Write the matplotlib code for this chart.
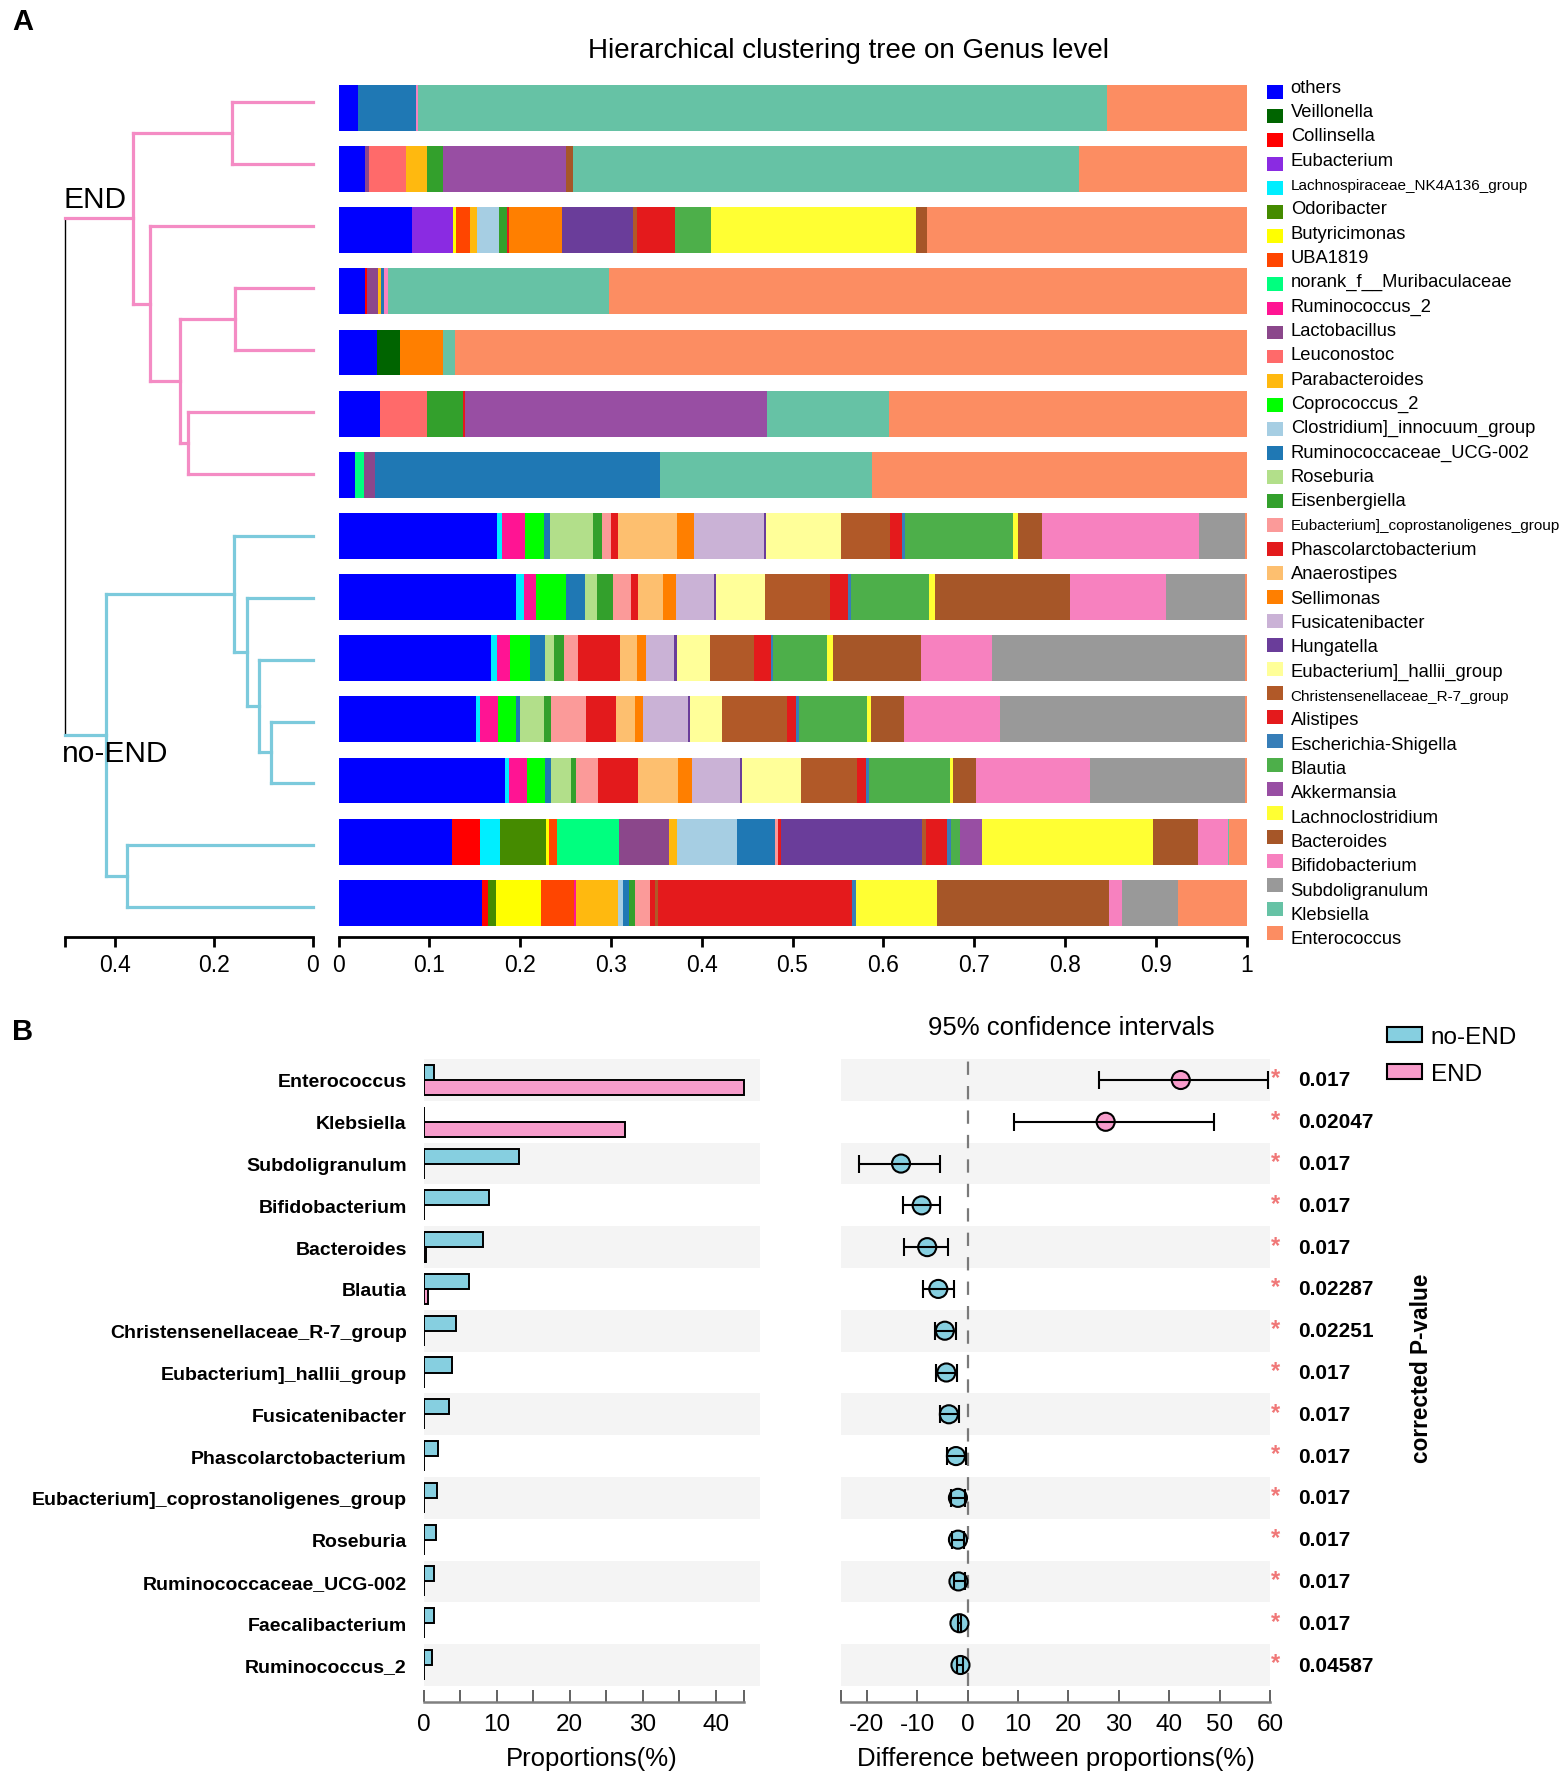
import matplotlib
matplotlib.use('Agg')
import matplotlib.pyplot as plt
import numpy as np
from matplotlib import font_manager
from matplotlib.patches import Patch
import matplotlib.transforms as mtransforms

plt.rcParams['font.family'] = ['Liberation Sans', 'DejaVu Sans']
plt.rcParams['axes.unicode_minus'] = False

# ------------------------------------------------------------------ data
genera = ['others', 'Veillonella', 'Collinsella', 'Eubacterium',
          'Lachnospiraceae_NK4A136_group', 'Odoribacter', 'Butyricimonas',
          'UBA1819', 'norank_f__Muribaculaceae', 'Ruminococcus_2',
          'Lactobacillus', 'Leuconostoc', 'Parabacteroides', 'Coprococcus_2',
          'Clostridium]_innocuum_group', 'Ruminococcaceae_UCG-002', 'Roseburia',
          'Eisenbergiella', 'Eubacterium]_coprostanoligenes_group',
          'Phascolarctobacterium', 'Anaerostipes', 'Sellimonas',
          'Fusicatenibacter', 'Hungatella', 'Eubacterium]_hallii_group',
          'Christensenellaceae_R-7_group', 'Alistipes', 'Escherichia-Shigella',
          'Blautia', 'Akkermansia', 'Lachnoclostridium', 'Bacteroides',
          'Bifidobacterium', 'Subdoligranulum', 'Klebsiella', 'Enterococcus']

genus_colors = ['#0000FF', '#006400', '#FF0000', '#8A2BE2', '#00EEFF', '#458B00',
                '#FFFF00', '#FF4500', '#00FF7F', '#FF1493', '#8B478B', '#FF6A6A',
                '#FFB90F', '#00FF00', '#A6CEE3', '#1F78B4', '#B2DF8A', '#33A02C',
                '#FB9A99', '#E31A1C', '#FDBF6F', '#FF7F00', '#CAB2D6', '#6A3D9A',
                '#FFFF99', '#B15928', '#E41A1C', '#377EB8', '#4DAF4A', '#984EA3',
                '#FFFF33', '#A65628', '#F781BF', '#999999', '#66C2A5', '#FC8D62']

condensed_labels = ['Lachnospiraceae_NK4A136_group',
                    'Eubacterium]_coprostanoligenes_group',
                    'Christensenellaceae_R-7_group']

# relative abundance of each sample (top to bottom)
end_s1 = {'others': 0.022, 'Ruminococcaceae_UCG-002': 0.063, 'Bifidobacterium': 0.002,
          'Klebsiella': 0.759, 'Enterococcus': 0.154}
end_s2 = {'others': 0.029, 'Lactobacillus': 0.005, 'Leuconostoc': 0.040,
          'Parabacteroides': 0.023, 'Eisenbergiella': 0.018, 'Akkermansia': 0.135,
          'Bacteroides': 0.008, 'Klebsiella': 0.557, 'Enterococcus': 0.185}
end_s3 = {'others': 0.081, 'Eubacterium': 0.045, 'Butyricimonas': 0.003, 'UBA1819': 0.016,
          'Parabacteroides': 0.007, 'Clostridium]_innocuum_group': 0.025,
          'Eisenbergiella': 0.009, 'Phascolarctobacterium': 0.002, 'Sellimonas': 0.058,
          'Hungatella': 0.078, 'Christensenellaceae_R-7_group': 0.005, 'Alistipes': 0.042,
          'Blautia': 0.039, 'Lachnoclostridium': 0.226, 'Bacteroides': 0.012,
          'Enterococcus': 0.352}
end_s4 = {'others': 0.029, 'Collinsella': 0.002, 'Lactobacillus': 0.013,
          'Parabacteroides': 0.003, 'Ruminococcaceae_UCG-002': 0.003,
          'Bifidobacterium': 0.004, 'Klebsiella': 0.244, 'Enterococcus': 0.702}
end_s5 = {'others': 0.042, 'Veillonella': 0.026, 'Sellimonas': 0.047,
          'Klebsiella': 0.013, 'Enterococcus': 0.872}
end_s6 = {'others': 0.046, 'Leuconostoc': 0.052, 'Eisenbergiella': 0.039,
          'Alistipes': 0.002, 'Akkermansia': 0.333, 'Klebsiella': 0.134,
          'Enterococcus': 0.394}
end_s7 = {'others': 0.018, 'norank_f__Muribaculaceae': 0.010, 'Lactobacillus': 0.012,
          'Ruminococcaceae_UCG-002': 0.314, 'Klebsiella': 0.233, 'Enterococcus': 0.413}
noend_s1 = {'others': 0.175, 'Lachnospiraceae_NK4A136_group': 0.005, 'Ruminococcus_2': 0.025,
            'Coprococcus_2': 0.021, 'Ruminococcaceae_UCG-002': 0.007, 'Roseburia': 0.047,
            'Eisenbergiella': 0.010, 'Eubacterium]_coprostanoligenes_group': 0.010,
            'Phascolarctobacterium': 0.008, 'Anaerostipes': 0.065, 'Sellimonas': 0.018,
            'Fusicatenibacter': 0.078, 'Hungatella': 0.002, 'Eubacterium]_hallii_group': 0.082,
            'Christensenellaceae_R-7_group': 0.054, 'Alistipes': 0.014,
            'Escherichia-Shigella': 0.003, 'Blautia': 0.119, 'Lachnoclostridium': 0.005,
            'Bacteroides': 0.027, 'Bifidobacterium': 0.173, 'Subdoligranulum': 0.050,
            'Enterococcus': 0.002}
noend_s2 = {'others': 0.196, 'Lachnospiraceae_NK4A136_group': 0.008, 'Ruminococcus_2': 0.014,
            'Coprococcus_2': 0.032, 'Ruminococcaceae_UCG-002': 0.021, 'Roseburia': 0.014,
            'Eisenbergiella': 0.017, 'Eubacterium]_coprostanoligenes_group': 0.020,
            'Phascolarctobacterium': 0.008, 'Anaerostipes': 0.027, 'Sellimonas': 0.015,
            'Fusicatenibacter': 0.042, 'Hungatella': 0.002, 'Eubacterium]_hallii_group': 0.054,
            'Christensenellaceae_R-7_group': 0.071, 'Alistipes': 0.020,
            'Escherichia-Shigella': 0.003, 'Blautia': 0.086, 'Lachnoclostridium': 0.007,
            'Bacteroides': 0.149, 'Bifidobacterium': 0.105, 'Subdoligranulum': 0.087,
            'Enterococcus': 0.002}
noend_s3 = {'others': 0.168, 'Lachnospiraceae_NK4A136_group': 0.007, 'Ruminococcus_2': 0.014,
            'Coprococcus_2': 0.022, 'Ruminococcaceae_UCG-002': 0.016, 'Roseburia': 0.010,
            'Eisenbergiella': 0.011, 'Eubacterium]_coprostanoligenes_group': 0.016,
            'Phascolarctobacterium': 0.046, 'Anaerostipes': 0.019, 'Sellimonas': 0.010,
            'Fusicatenibacter': 0.031, 'Hungatella': 0.003, 'Eubacterium]_hallii_group': 0.036,
            'Christensenellaceae_R-7_group': 0.048, 'Alistipes': 0.019,
            'Escherichia-Shigella': 0.003, 'Blautia': 0.059, 'Lachnoclostridium': 0.007,
            'Bacteroides': 0.096, 'Bifidobacterium': 0.079, 'Subdoligranulum': 0.278,
            'Enterococcus': 0.002}
noend_s4 = {'others': 0.151, 'Lachnospiraceae_NK4A136_group': 0.005, 'Ruminococcus_2': 0.020,
            'Coprococcus_2': 0.019, 'Ruminococcaceae_UCG-002': 0.005, 'Roseburia': 0.026,
            'Eisenbergiella': 0.008, 'Eubacterium]_coprostanoligenes_group': 0.038,
            'Phascolarctobacterium': 0.034, 'Anaerostipes': 0.020, 'Sellimonas': 0.009,
            'Fusicatenibacter': 0.050, 'Hungatella': 0.002, 'Eubacterium]_hallii_group': 0.035,
            'Christensenellaceae_R-7_group': 0.072, 'Alistipes': 0.010,
            'Escherichia-Shigella': 0.003, 'Blautia': 0.075, 'Lachnoclostridium': 0.004,
            'Bacteroides': 0.037, 'Bifidobacterium': 0.105, 'Subdoligranulum': 0.270,
            'Enterococcus': 0.002}
noend_s5 = {'others': 0.183, 'Lachnospiraceae_NK4A136_group': 0.005, 'Ruminococcus_2': 0.020,
            'Coprococcus_2': 0.019, 'Ruminococcaceae_UCG-002': 0.007, 'Roseburia': 0.022,
            'Eisenbergiella': 0.006, 'Eubacterium]_coprostanoligenes_group': 0.024,
            'Phascolarctobacterium': 0.044, 'Anaerostipes': 0.044, 'Sellimonas': 0.015,
            'Fusicatenibacter': 0.053, 'Hungatella': 0.002, 'Eubacterium]_hallii_group': 0.065,
            'Christensenellaceae_R-7_group': 0.062, 'Alistipes': 0.010,
            'Escherichia-Shigella': 0.003, 'Blautia': 0.089, 'Lachnoclostridium': 0.004,
            'Bacteroides': 0.025, 'Bifidobacterium': 0.126, 'Subdoligranulum': 0.170,
            'Enterococcus': 0.002}
noend_s6 = {'others': 0.125, 'Collinsella': 0.031, 'Lachnospiraceae_NK4A136_group': 0.022,
            'Odoribacter': 0.051, 'Butyricimonas': 0.003, 'UBA1819': 0.009,
            'norank_f__Muribaculaceae': 0.068, 'Lactobacillus': 0.055, 'Parabacteroides': 0.009,
            'Clostridium]_innocuum_group': 0.066, 'Ruminococcaceae_UCG-002': 0.042,
            'Eubacterium]_coprostanoligenes_group': 0.003, 'Phascolarctobacterium': 0.003,
            'Hungatella': 0.156, 'Christensenellaceae_R-7_group': 0.004, 'Alistipes': 0.023,
            'Escherichia-Shigella': 0.004, 'Blautia': 0.010, 'Akkermansia': 0.025,
            'Lachnoclostridium': 0.188, 'Bacteroides': 0.049, 'Bifidobacterium': 0.034,
            'Klebsiella': 0.001, 'Enterococcus': 0.019}
noend_s7 = {'others': 0.158, 'Collinsella': 0.007, 'Odoribacter': 0.008, 'Butyricimonas': 0.050,
            'UBA1819': 0.036, 'Ruminococcus_2': 0.002, 'Parabacteroides': 0.047,
            'Clostridium]_innocuum_group': 0.005, 'Ruminococcaceae_UCG-002': 0.007,
            'Eisenbergiella': 0.006, 'Eubacterium]_coprostanoligenes_group': 0.017,
            'Phascolarctobacterium': 0.005, 'Christensenellaceae_R-7_group': 0.004,
            'Alistipes': 0.213, 'Escherichia-Shigella': 0.005, 'Lachnoclostridium': 0.089,
            'Bacteroides': 0.190, 'Bifidobacterium': 0.014, 'Subdoligranulum': 0.061,
            'Klebsiella': 0.001, 'Enterococcus': 0.075}

samples = [end_s1, end_s2, end_s3, end_s4, end_s5, end_s6, end_s7,
           noend_s1, noend_s2, noend_s3, noend_s4, noend_s5, noend_s6, noend_s7]

# clustering tree: (child_a, child_b, merge height, group); leaves are 0..13
merges = [(0, 1, 0.164, 'END'), (3, 4, 0.157, 'END'), (5, 6, 0.253, 'END'),
          (15, 16, 0.268, 'END'), (2, 17, 0.328, 'END'), (14, 18, 0.362, 'END'),
          (10, 11, 0.084, 'no-END'), (9, 20, 0.109, 'no-END'), (8, 21, 0.134, 'no-END'),
          (7, 22, 0.159, 'no-END'), (12, 13, 0.375, 'no-END'), (23, 24, 0.417, 'no-END'),
          (19, 25, 0.500, 'root')]
tree_colors = {'END': '#F48CC4', 'no-END': '#7CCADC', 'root': '#000000'}

# panel B
b_genera = ['Enterococcus', 'Klebsiella', 'Subdoligranulum', 'Bifidobacterium', 'Bacteroides',
            'Blautia', 'Christensenellaceae_R-7_group', 'Eubacterium]_hallii_group',
            'Fusicatenibacter', 'Phascolarctobacterium', 'Eubacterium]_coprostanoligenes_group',
            'Roseburia', 'Ruminococcaceae_UCG-002', 'Faecalibacterium', 'Ruminococcus_2']
prop_noend = [1.5, 0.1, 13.0, 9.0, 8.2, 6.2, 4.5, 3.9, 3.5, 2.0, 1.8, 1.7, 1.5, 1.45, 1.2]
prop_end = [43.8, 27.5, 0.05, 0.05, 0.4, 0.55, 0.05, 0.05, 0.05, 0.05, 0.05, 0.05, 0.05, 0.05, 0.05]
diff_est = [42.3, 27.4, -13.2, -9.1, -8.0, -5.8, -4.5, -4.2, -3.7, -2.3, -1.9, -1.9, -1.8, -1.6, -1.4]
ci_low = [26.1, 9.2, -21.5, -12.8, -12.6, -8.8, -6.5, -6.2, -5.5, -4.0, -3.2, -3.0, -2.7, -1.9, -2.1]
ci_high = [59.7, 48.8, -5.4, -5.4, -3.8, -2.6, -2.3, -2.0, -1.7, -0.4, -0.5, -0.7, -0.6, -1.3, -0.8]
p_values = ['0.017', '0.02047', '0.017', '0.017', '0.017', '0.02287', '0.02251', '0.017',
            '0.017', '0.017', '0.017', '0.017', '0.017', '0.017', '0.04587']

bar_ticks = [0, 0.1, 0.2, 0.3, 0.4, 0.5, 0.6, 0.7, 0.8, 0.9, 1]
bar_ticklabels = ['0', '0.1', '0.2', '0.3', '0.4', '0.5', '0.6', '0.7', '0.8', '0.9', '1']
tree_ticks = [0.5, 0.4, 0.2, 0]
tree_ticklabels = ['', '0.4', '0.2', '0']
prop_ticks = [0, 5, 10, 15, 20, 25, 30, 35, 40, 43.8]
prop_ticklabels = ['0', '', '10', '', '20', '', '30', '', '40', '']
diff_ticks = [-25, -20, -10, 0, 10, 20, 30, 40, 50, 60]
diff_ticklabels = ['', '-20', '-10', '0', '10', '20', '30', '40', '50', '60']

C_NOEND = '#86CFE0'
C_END = '#F79CCB'

# ------------------------------------------------------------------ figure
W, H = 1562, 1783
fig = plt.figure(figsize=(W / 100, H / 100), dpi=100)


def px_axes(x0, y0, x1, y1):
    return fig.add_axes([x0 / W, 1 - y1 / H, (x1 - x0) / W, (y1 - y0) / H])


names = {f.name for f in font_manager.fontManager.ttflist}
narrow_family = 'Liberation Sans Narrow' if 'Liberation Sans Narrow' in names else None

n = len(samples)
spine_y = 938.3

# ---- stacked bars
b_first, b_pitch = 109.0, 61.14
axb = px_axes(338.5, b_first - 0.5 * b_pitch, 1246.6, spine_y)
left = np.zeros(n)
for g, c in zip(genera, genus_colors):
    vals = np.array([s.get(g, 0.0) for s in samples])
    axb.barh(np.arange(n), vals, left=left, height=0.75, color=c, linewidth=0)
    left += vals
axb.set_xlim(0, 1)
axb.set_ylim(13 + (spine_y - (b_first + 13 * b_pitch)) / b_pitch, -0.5)
for sp in ['top', 'right', 'left']:
    axb.spines[sp].set_visible(False)
axb.spines['bottom'].set_linewidth(2)
axb.set_yticks([])
axb.set_xticks(bar_ticks)
axb.set_xticklabels(bar_ticklabels)
axb.tick_params(axis='x', length=7, width=2, pad=4, labelsize=16.5)

# ---- dendrogram
d_first, d_pitch = 103.3, 61.92
axd = px_axes(65, d_first - 0.5 * d_pitch, 313, spine_y)
ypos = {i: float(i) for i in range(n)}
hgt = {i: 0.0 for i in range(n)}
grp = {}
for k, (a, b, h, g) in enumerate(merges):
    idx = n + k
    ypos[idx] = (ypos[a] + ypos[b]) / 2
    hgt[idx] = h
    grp[idx] = g
    for ch in (a, b):
        cg = grp[ch] if ch >= n else g
        axd.plot([hgt[ch], h], [ypos[ch], ypos[ch]], color=tree_colors[cg],
                 lw=2.3, solid_capstyle='projecting', clip_on=False, zorder=2)
    axd.plot([h, h], [ypos[a], ypos[b]], color=tree_colors[g],
             lw=1.0 if g == 'root' else 2.3, solid_capstyle='projecting',
             clip_on=False, zorder=3 if g != 'root' else 1)
end_node = n + 5
noend_node = n + 11
axd.annotate('END', xy=(0.5, ypos[end_node]), xytext=(-1, 4), textcoords='offset points',
             ha='left', va='bottom', fontsize=21.5)
axd.annotate('no-END', xy=(0.5, ypos[noend_node]), xytext=(-2, -3), textcoords='offset points',
             ha='left', va='top', fontsize=21.5)
axd.set_xlim(0.5, 0)
axd.set_ylim(13 + (spine_y - (d_first + 13 * d_pitch)) / d_pitch, -0.5)
for sp in ['top', 'right', 'left']:
    axd.spines[sp].set_visible(False)
axd.spines['bottom'].set_linewidth(2)
axd.set_yticks([])
axd.set_xticks(tree_ticks)
axd.set_xticklabels(tree_ticklabels)
axd.tick_params(axis='x', length=7, width=2, pad=4, labelsize=16.5)

# ---- legend of panel A
axl = px_axes(1266.7, 93.3 - 12.01, 1560, 934 + 12.01)
nl = len(genera)
axl.barh(np.arange(nl), [16] * nl, left=0, height=0.58, color=genus_colors, linewidth=0)
for i, g in enumerate(genera):
    ty = i * 1.0129 - 0.21
    if g in condensed_labels:
        if narrow_family:
            axl.text(24, ty, g, fontsize=13.2, family=narrow_family, va='center', ha='left')
        else:
            axl.text(24, ty, g, fontsize=11, va='center', ha='left')
    else:
        axl.text(24, ty, g, fontsize=13.2, va='center', ha='left')
axl.set_xlim(0, 1560 - 1266.7)
axl.set_ylim(nl - 0.5, -0.5)
axl.axis('off')

fig.text(848 / W, 1 - 51 / H, 'Hierarchical clustering tree on Genus level',
         ha='center', va='center', fontsize=20)
fig.text(23 / W, 1 - 22 / H, 'A', ha='center', va='center', fontsize=21, fontweight='bold')
fig.text(23 / W, 1 - 1032 / H, 'B', ha='center', va='center', fontsize=21, fontweight='bold')

# ---- panel B left: proportions
nb = len(b_genera)
bt, bb = 1081 - 0.5 * 41.79, 1666 + 0.5 * 41.79
ax1 = px_axes(423.5, bt, 423.5 + 46 * 7.31, bb)
yb = np.arange(nb)
for i in range(0, nb, 2):
    ax1.axhspan(i - 0.5, i + 0.5, color='#F4F4F4', lw=0, zorder=0)
ax1.barh(yb - 0.18, prop_noend, height=0.36, color=C_NOEND, edgecolor='black', linewidth=1.4,
         zorder=2)
ax1.barh(yb + 0.18, prop_end, height=0.36, color=C_END, edgecolor='black', linewidth=1.4,
         zorder=2)
ax1.set_xlim(0, 46)
ax1.set_ylim(nb - 0.5, -0.5)
ax1.set_yticks(yb)
ax1.set_yticklabels(b_genera, fontsize=14, fontweight='bold')
ax1.tick_params(axis='y', length=0, pad=12)
ax1.set_xticks(prop_ticks)
ax1.set_xticklabels(prop_ticklabels)
ax1.tick_params(axis='x', direction='in', length=8.5, width=1.3, color='#555555', pad=8,
                labelsize=17.5)
for sp in ['top', 'right', 'left']:
    ax1.spines[sp].set_visible(False)
ax1.spines['bottom'].set_position(('outward', 11.5))
ax1.spines['bottom'].set_bounds(0, 43.8)
ax1.spines['bottom'].set_color('#808080')
ax1.spines['bottom'].set_linewidth(1.8)
ax1.set_xlabel('Proportions(%)', fontsize=18.5, labelpad=8)

# ---- panel B right: difference CI
ax2 = px_axes(841.5, bt, 1270, bb)
for i in range(0, nb, 2):
    ax2.axhspan(i - 0.5, i + 0.5, color='#F4F4F4', lw=0, zorder=0)
ax2.axvline(0, color='#7a7a7a', lw=1.6, ls=(0, (6, 5)), zorder=1)
est = np.array(diff_est)
lo = np.array(ci_low)
hi = np.array(ci_high)
mcol = [C_END if v > 0 else C_NOEND for v in est]
ax2.scatter(est, yb, s=13 ** 2, c=mcol, edgecolors='black', linewidths=1.5, zorder=3)
ax2.errorbar(est, yb, xerr=[est - lo, hi - est], fmt='none', ecolor='black', elinewidth=1.5,
             capsize=6.5, capthick=1.5, zorder=4)
ax2.set_xlim(-25, 60)
ax2.set_ylim(nb - 0.5, -0.5)
ax2.set_yticks([])
ax2.set_xticks(diff_ticks)
ax2.set_xticklabels(diff_ticklabels)
ax2.tick_params(axis='x', direction='in', length=8.5, width=1.3, color='#555555', pad=8,
                labelsize=17.5)
for sp in ['top', 'right', 'left']:
    ax2.spines[sp].set_visible(False)
ax2.spines['bottom'].set_position(('outward', 11.5))
ax2.spines['bottom'].set_color('#808080')
ax2.spines['bottom'].set_linewidth(1.8)
ax2.set_xlabel('Difference between proportions(%)', fontsize=18.5, labelpad=8)
fig.text(1070.8 / W, 1 - 1028 / H, '95% confidence intervals', ha='center', va='center',
         fontsize=18.5)

trans = mtransforms.blended_transform_factory(ax2.transAxes, ax2.transData)
for i, p in enumerate(p_values):
    ax2.text(1.0133, i - 0.05, '*', transform=trans, color='#F07878', fontsize=17,
             fontweight='bold', ha='center', va='center', clip_on=False)
    ax2.text(1.0653, i, p, transform=trans, fontsize=15, fontweight='bold',
             ha='left', va='center', clip_on=False)

fig.text(1421 / W, 1 - 1368 / H, 'corrected P-value', rotation=90, ha='center', va='center',
         fontsize=16.3, fontweight='bold')

handles = [Patch(facecolor=C_NOEND, edgecolor='black', linewidth=1.5, label='no-END'),
           Patch(facecolor=C_END, edgecolor='black', linewidth=1.5, label='END')]
fig.legend(handles=handles, loc='upper left', bbox_to_anchor=(1387 / W, 1 - 1027 / H),
           frameon=False, fontsize=17.5, handlelength=1.44, handleheight=0.58,
           handletextpad=0.35, labelspacing=0.63, borderpad=0, borderaxespad=0)

fig.savefig('out.png', dpi=100)
